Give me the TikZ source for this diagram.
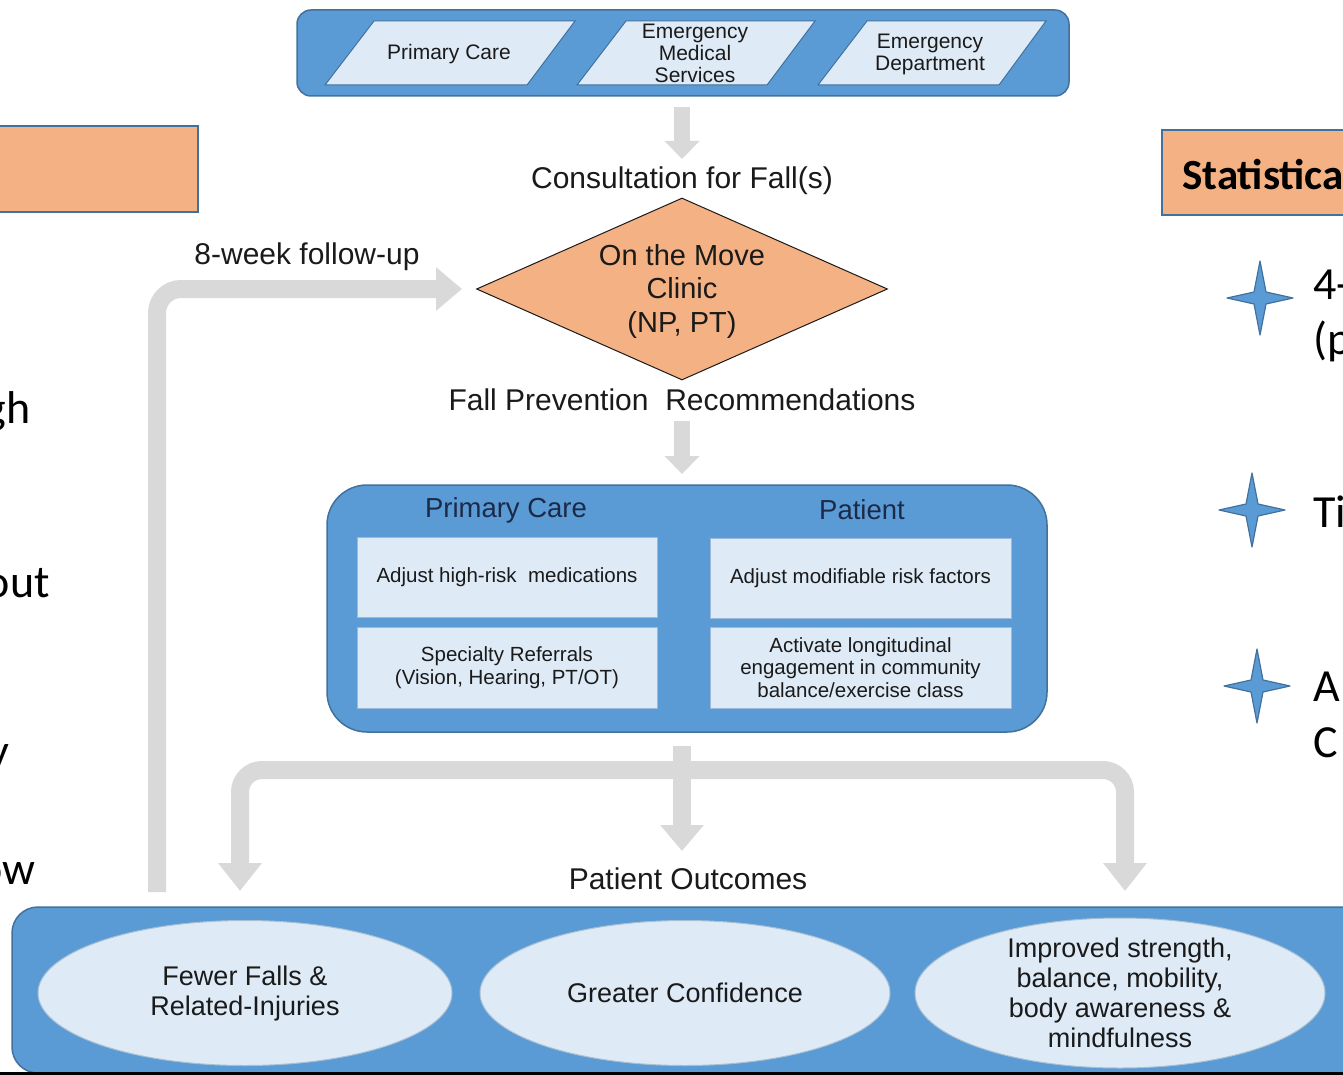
\documentclass[tikz,border=0pt]{standalone}
\usepackage{fontspec}
\setmainfont{Liberation Sans}
\newfontfamily\calibri{Carlito}
\usetikzlibrary{shapes.geometric,arrows.meta}
\definecolor{bluefill}{HTML}{5B9BD5}
\definecolor{blueline}{HTML}{41719C}
\definecolor{lightfill}{HTML}{DEEBF7}
\definecolor{lightline}{HTML}{9DB9D8}
\definecolor{orangefill}{HTML}{F4B183}
\definecolor{arrowgray}{HTML}{D9D9D9}
\definecolor{txt}{HTML}{1A1A1A}
\definecolor{navy}{HTML}{1C2A48}
\begin{document}
\begin{tikzpicture}[x=1pt,y=-1pt,
  bluebox/.style={draw=blueline, fill=bluefill, line width=1.5pt},
  parabox/.style={draw=blueline, fill=lightfill, line width=1pt},
  lightbox/.style={draw=lightline, fill=lightfill, line width=1pt, inner sep=0pt},
  orangebox/.style={draw=blueline, fill=orangefill, line width=2pt},
  label30/.style={text=txt, font=\fontsize{30}{34}\selectfont, inner sep=0pt},
  bartext/.style={text=txt, font=\fontsize{21}{22}\selectfont, align=center, inner sep=0pt},
  boxtext/.style={text=txt, font=\fontsize{20.5}{22.5}\selectfont, align=center},
  headtext/.style={text=navy, font=\fontsize{27.5}{30}\selectfont, inner sep=0pt},
  ovaltext/.style={text=txt, font=\fontsize{27}{30}\selectfont, align=center, inner sep=0pt},
  oval/.style={ellipse, draw=blueline!45, fill=lightfill, line width=1pt, inner sep=0pt},
  sidetext/.style={text=black, font=\calibri\fontsize{46}{56}\selectfont, inner sep=0pt},
  starshape/.style={draw=blueline, fill=bluefill, line width=1.2pt, line join=round},
  bigarrow/.style={draw=arrowgray, line width=18pt, -{Triangle[width=42pt,length=26pt]}},
  bigarrowboth/.style={draw=arrowgray, line width=18pt, {Triangle[width=42pt,length=28pt]}-{Triangle[width=42pt,length=28pt]}},
  smallarrow/.style={draw=arrowgray, line width=16pt, -{Triangle[width=34pt,length=18pt]}}
]
\useasboundingbox (0,0) rectangle (1343,1075);

% ---------- side panels ----------
\draw[orangebox] (-5,126) rectangle (198,212);
\draw[orangebox] (1162,130) rectangle (1370,215);
\node[sidetext, font=\calibri\bfseries\fontsize{43}{48}\selectfont, anchor=base west] (stat) at (1182,190) {Statistica};

\node[sidetext, anchor=base east] (l1) at (31,423) {gh};
\node[sidetext, anchor=base east] (l2) at (50,597) {out};
\node[sidetext, anchor=base east] (l3) at (10,766) {y};
\node[sidetext, anchor=base east] (l4) at (36,884) {ow};

\foreach \cx/\cy in {1260/298, 1252/510, 1257/686}
  \draw[starshape] (\cx-33,\cy) -- (\cx-6,\cy-6) -- (\cx,\cy-37) -- (\cx+6,\cy-6)
     -- (\cx+33,\cy) -- (\cx+6,\cy+6) -- (\cx,\cy+37) -- (\cx-6,\cy+6) -- cycle;

\node[sidetext, anchor=base west] (r1) at (1313,299) {4-};
\node[sidetext, anchor=base west] (r2) at (1313,354) {(p};
\node[sidetext, anchor=base west] (r3) at (1313,527) {Ti};
\node[sidetext, anchor=base west] (r4) at (1313,701) {A};
\node[sidetext, anchor=base west] (r5) at (1313,757) {C};

% ---------- top bar ----------
\node[bluebox, rectangle, rounded corners=14pt, minimum width=772pt, minimum height=86pt] (topbar) at (683,53) {};
\draw[parabox] (325,85) -- (374,21) -- (575,21) -- (527,85) -- cycle;
\draw[parabox] (577,85) -- (626,21) -- (815,21) -- (767,85) -- cycle;
\draw[parabox] (818,85) -- (867,21) -- (1046,21) -- (999,85) -- cycle;
\node[bartext] (pc) at (449,54) {Primary Care};
\node[bartext] (ems) at (695,53) {Emergency\\Medical\\Services};
\node[bartext] (ed) at (930,54) {Emergency\\Department};

% ---------- consultation ----------
\node[label30] (cons) at (682,181) {Consultation for Fall(s)};
\coordinate (a1s) at (682,107);
\coordinate (a1e) at (682,159);
\draw[smallarrow] (a1s) -- (a1e);

% ---------- diamond ----------
\node[diamond, draw=txt, fill=orangefill, line width=1pt, minimum width=411pt, minimum height=182pt, inner sep=0pt] (dia) at (682,289) {};
\node[label30, font=\fontsize{29}{33.5}\selectfont, align=center] (diat) at (682,291) {On the Move\\Clinic\\(NP, PT)};

\node[label30] (fup) at (307,257) {8-week follow-up};
\node[label30] (fpr) at (682,400) {Fall Prevention\ \ Recommendations};

\coordinate (a2s) at (682,421);
\coordinate (a2e) at (682,474);
\draw[smallarrow] (a2s) -- (a2e);

% ---------- middle box ----------
\node[bluebox, rectangle, rounded corners=40pt, minimum width=720pt, minimum height=247pt] (midbox) at (687,608.5) {};
\node[headtext] (h1) at (506,510) {Primary Care};
\node[headtext] (h2) at (862,510) {Patient};
\node[lightbox, minimum width=300pt, minimum height=80pt] (b1) at (507,577) {};
\node[boxtext] at (b1) {Adjust high-risk\ \ medications};
\node[lightbox, minimum width=300pt, minimum height=81pt] (b2) at (507,667.5) {};
\node[boxtext] at (b2) {Specialty Referrals\\(Vision, Hearing, PT/OT)};
\node[lightbox, minimum width=301pt, minimum height=80pt] (b3) at (860.5,578) {};
\node[boxtext] at (b3) {Adjust modifiable risk factors};
\node[lightbox, minimum width=301pt, minimum height=81pt] (b4) at (860.5,667.5) {};
\node[boxtext] at (b4) {Activate longitudinal\\engagement in community\\balance/exercise class};

% ---------- bottom bar ----------
\node[bluebox, rectangle, rounded corners=26pt, minimum width=1360pt, minimum height=166pt] (botbar) at (692,990) {};
\node[oval, minimum width=414pt, minimum height=145pt] (e1) at (245,993) {};
\node[oval, minimum width=410pt, minimum height=145pt] (e2) at (685,993) {};
\node[oval, minimum width=410pt, minimum height=150pt] (e3) at (1120,993) {};
\node[ovaltext] (t1) at (245,994) {Fewer Falls \&\\Related-Injuries};
\node[ovaltext] (t2) at (685,993) {Greater Confidence};
\node[ovaltext] (t3) at (1120,993) {Improved strength,\\balance, mobility,\\body awareness \&\\mindfulness};
\draw[line width=3pt, black] (0,1073.5) -- (1343,1073.5);

\node[label30] (po) at (688,879) {Patient Outcomes};

% ---------- branch arrows ----------
\coordinate (bl) at (240,891);
\coordinate (br) at (1125,891);
\coordinate (ms) at (682,746);
\coordinate (me) at (682,851);
\draw[bigarrowboth, rounded corners=22pt] (bl) |- (682,770) -| (br);
\draw[bigarrow] (ms) -- (me);

% ---------- follow-up loop ----------
\coordinate (fb) at (157,892);
\draw[bigarrow, rounded corners=24pt] (fb) |- ([xshift=-14pt]dia.west);

\end{tikzpicture}
\end{document}
